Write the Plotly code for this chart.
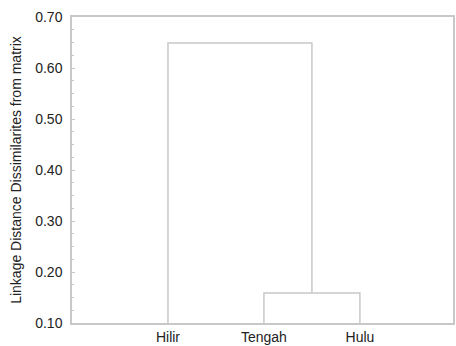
import plotly.graph_objects as go

# Data
leaves = ["Hilir", "Tengah", "Hulu"]
leaf_pos = [1, 2, 3]
# merges: (left node, right node, height); nodes are leaf indices or "cK"
merge_pairs = [(1, 2), (0, "c0")]
merge_heights = [0.159, 0.649]
baseline = 0.10
y_ticks = [0.10, 0.20, 0.30, 0.40, 0.50, 0.60, 0.70]

LINE = "#c8c8c8"
TXT = "#222222"
FONT = "Arial, Liberation Sans, sans-serif"

fig = go.Figure()

node_x = {i: leaf_pos[i] for i in range(len(leaves))}
node_h = {i: baseline for i in range(len(leaves))}
xs, ys = [], []
for k, ((a, b), h) in enumerate(zip(merge_pairs, merge_heights)):
    xa, xb = node_x[a], node_x[b]
    ha, hb = node_h[a], node_h[b]
    xs += [xa, xa, xb, xb, None]
    ys += [ha, h, h, hb, None]
    node_x["c%d" % k] = (xa + xb) / 2
    node_h["c%d" % k] = h

fig.add_trace(go.Scatter(x=xs, y=ys, mode="lines",
                         line=dict(color=LINE, width=1.5),
                         hoverinfo="skip", showlegend=False))

fig.update_layout(
    width=456, height=346,
    margin=dict(l=72, r=1, t=17, b=22),
    paper_bgcolor="white", plot_bgcolor="white",
    font=dict(family=FONT, size=14, color=TXT),
    showlegend=False,
)
fig.update_xaxes(
    range=[0, 3.97], tickmode="array", tickvals=leaf_pos, ticktext=leaves,
    showgrid=False, zeroline=False, ticks="",
    showline=True, mirror=True, linecolor=LINE, linewidth=1.5,
    tickfont=dict(size=14, color=TXT),
    ticklabelstandoff=0,
)
fig.update_yaxes(
    range=[0.10, 0.70], tickmode="array", tickvals=y_ticks,
    tickformat=".2f", showgrid=False, zeroline=False,
    ticks="inside", ticklen=3, tickcolor=LINE, tickwidth=1,
    minor=dict(ticks="inside", ticklen=2, dtick=0.025, tickcolor=LINE, showgrid=False),
    showline=True, mirror=True, linecolor=LINE, linewidth=1.5,
    tickfont=dict(size=14, color=TXT),
    ticklabelstandoff=5,
    title=dict(text="Linkage Distance Dissimilarites from matrix",
               font=dict(size=14, color=TXT), standoff=10),
)

fig.write_html("out.html", config={"displayModeBar": False},
               post_script="document.body.style.margin='0';")
